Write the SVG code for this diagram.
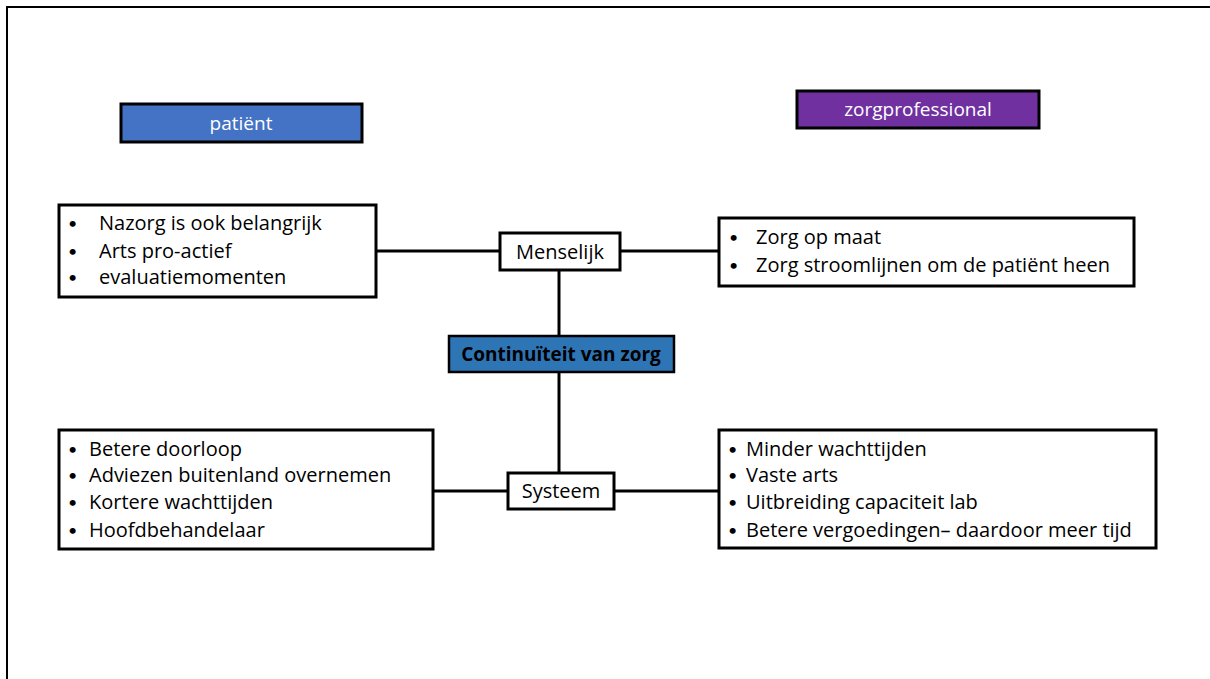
<svg xmlns="http://www.w3.org/2000/svg" width="1210" height="679" viewBox="0 0 1210 679">
<style>
.frame{fill:none;stroke:#000;stroke-width:2}
.box{fill:#fff;stroke:#000;stroke-width:3}
.hdr{stroke:#000;stroke-width:3}
.t{font-family:"Open Sans","Liberation Sans",sans-serif;font-size:20px;fill:#000}
.b{font-family:Lato,"Liberation Sans",sans-serif;font-size:16px}
.h{font-family:"Open Sans","Liberation Sans",sans-serif;font-size:19px;fill:#fff;text-anchor:middle}
.c{font-family:"Open Sans","Liberation Sans",sans-serif;font-size:19px;font-weight:bold;fill:#000;text-anchor:middle}
.lbl{font-family:"Open Sans","Liberation Sans",sans-serif;font-size:20px;fill:#000;text-anchor:middle}
.ln{stroke:#000;stroke-width:3;fill:none}
</style>
<rect x="0" y="0" width="1210" height="679" fill="#fff"/>
<rect class="frame" x="7" y="7" width="1220" height="700"/>
<g id="connectors">
<line class="ln" x1="376" y1="251" x2="500" y2="251"/>
<line class="ln" x1="620" y1="251" x2="719" y2="251"/>
<line class="ln" x1="559" y1="270" x2="559" y2="336"/>
<line class="ln" x1="559" y1="372" x2="559" y2="473"/>
<line class="ln" x1="433" y1="491" x2="508" y2="491"/>
<line class="ln" x1="614" y1="491" x2="719" y2="491"/>
</g>
<g id="patient">
<rect class="hdr" x="121" y="104" width="241" height="38" fill="#4472C4"/>
<text class="h" x="241" y="130">patiënt</text>
</g>
<g id="zorgprofessional">
<rect class="hdr" x="797" y="91" width="242" height="37" fill="#7030A0"/>
<text class="h" x="918" y="116">zorgprofessional</text>
</g>
<g id="patient-menselijk">
<rect class="box" x="59" y="205" width="317" height="92"/>
<text class="t"><tspan class="b" x="68" y="229">•</tspan><tspan x="99" y="230">Nazorg is ook belangrijk</tspan></text>
<text class="t"><tspan class="b" x="68" y="257">•</tspan><tspan x="99" y="258">Arts pro-actief</tspan></text>
<text class="t"><tspan class="b" x="68" y="283">•</tspan><tspan x="99" y="284">evaluatiemomenten</tspan></text>
</g>
<g id="menselijk">
<rect class="box" x="500" y="233" width="120" height="37"/>
<text class="lbl" x="560" y="259">Menselijk</text>
</g>
<g id="prof-menselijk">
<rect class="box" x="719" y="218" width="415" height="68"/>
<text class="t"><tspan class="b" x="729" y="243">•</tspan><tspan x="756" y="244">Zorg op maat</tspan></text>
<text class="t"><tspan class="b" x="729" y="271">•</tspan><tspan x="756" y="272">Zorg stroomlijnen om de patiënt heen</tspan></text>
</g>
<g id="continuiteit">
<rect x="449" y="336" width="225" height="36" fill="#2E75B6" stroke="#000" stroke-width="2.5"/>
<text class="c" x="561" y="361">Continuïteit van zorg</text>
</g>
<g id="systeem">
<rect class="box" x="508" y="473" width="106" height="36"/>
<text class="lbl" x="561" y="498">Systeem</text>
</g>
<g id="patient-systeem">
<rect class="box" x="59" y="430" width="374" height="119"/>
<text class="t"><tspan class="b" x="68" y="455">•</tspan><tspan x="89" y="456">Betere doorloop</tspan></text>
<text class="t"><tspan class="b" x="68" y="481">•</tspan><tspan x="89" y="482">Adviezen buitenland overnemen</tspan></text>
<text class="t"><tspan class="b" x="68" y="508">•</tspan><tspan x="89" y="509">Kortere wachttijden</tspan></text>
<text class="t"><tspan class="b" x="68" y="536">•</tspan><tspan x="89" y="537">Hoofdbehandelaar</tspan></text>
</g>
<g id="prof-systeem">
<rect class="box" x="719" y="430" width="437" height="118"/>
<text class="t"><tspan class="b" x="728" y="455">•</tspan><tspan x="746" y="456">Minder wachttijden</tspan></text>
<text class="t"><tspan class="b" x="728" y="481">•</tspan><tspan x="746" y="482">Vaste arts</tspan></text>
<text class="t"><tspan class="b" x="728" y="508">•</tspan><tspan x="746" y="509">Uitbreiding capaciteit lab</tspan></text>
<text class="t"><tspan class="b" x="728" y="536">•</tspan><tspan x="746" y="537">Betere vergoedingen– daardoor meer tijd</tspan></text>
</g>
</svg>
